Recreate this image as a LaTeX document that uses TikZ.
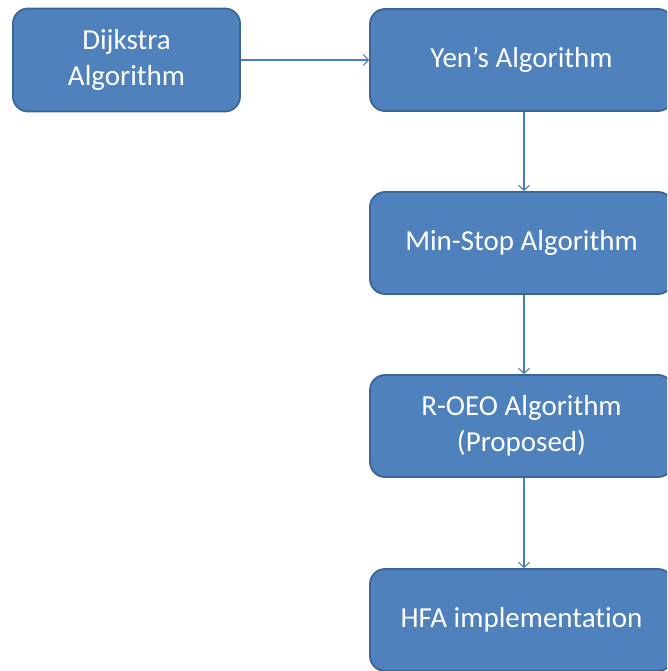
\documentclass[tikz,border=0pt]{standalone}
\usepackage{fontspec}
\setmainfont{Carlito}[Ligatures=NoCommon]
\usetikzlibrary{arrows.meta}
\definecolor{boxfill}{HTML}{4F81BD}
\definecolor{boxline}{HTML}{3A6596}
\definecolor{linkline}{HTML}{4A7EBB}
\begin{document}
\begin{tikzpicture}[x=1pt,y=-1pt,
  stepbox/.style={draw=boxline, line width=1.8pt, fill=boxfill, rounded corners=15pt,
    text=white, align=center, inner sep=0pt,
    font=\fontsize{29}{36}\selectfont},
  widebox/.style={stepbox, minimum width=303pt, minimum height=102pt},
  link/.style={draw=linkline, line width=1.1pt, -{Straight Barb[length=5pt,width=11pt]}}]
\clip (0,0) rectangle (667,671);
\useasboundingbox (0,0) rectangle (667,671);
\node[stepbox, minimum width=227pt, minimum height=103pt] (dij) at (126.5,60) {Dijkstra\\Algorithm};
\node[widebox] (yen) at (521.5,60) {Yen’s Algorithm};
\node[widebox] (min) at (521.5,243) {Min-Stop Algorithm};
\node[widebox] (roe) at (521.5,426) {R-OEO Algorithm\\(Proposed)};
\node[widebox] (hfa) at (521.5,620) {HFA implementation};
\draw[link] (dij) -- (yen);
\draw[link] ([xshift=2.5pt]yen.south) -- ([xshift=2.5pt]min.north);
\draw[link] ([xshift=2.5pt]min.south) -- ([xshift=2.5pt]roe.north);
\draw[link] ([xshift=2.5pt]roe.south) -- ([xshift=2.5pt]hfa.north);
\end{tikzpicture}
\end{document}
